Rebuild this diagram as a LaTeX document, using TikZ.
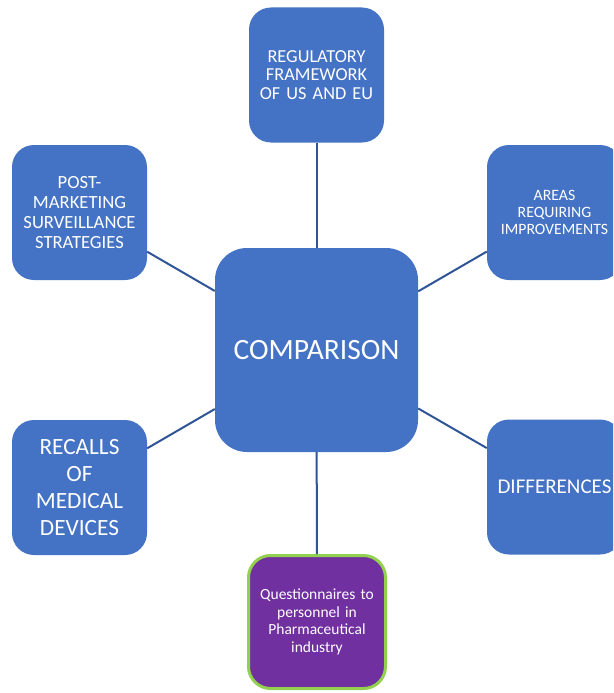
\documentclass[tikz,border=0pt]{standalone}
\usepackage{fontspec}
\setmainfont{Carlito}
\definecolor{boxblue}{HTML}{4472C4}
\definecolor{linkblue}{HTML}{2F5597}
\definecolor{qpurple}{HTML}{7030A0}
\definecolor{qgreen}{HTML}{92D050}
\tikzset{
  bbox/.style={fill=boxblue, draw=none, rounded corners=22pt, minimum width=135pt, minimum height=135pt, inner sep=0pt, text=white, align=center, text width=134pt},
  link/.style={draw=linkblue, line width=2pt}
}
\begin{document}
\begin{tikzpicture}[x=1pt,y=-1pt]
\clip (0,0) rectangle (613,693);
\fill[white] (0,0) rectangle (613,693);
\node[bbox, rounded corners=32pt, minimum width=203pt, minimum height=204pt, text width=200pt, font=\fontsize{29.5}{34}\selectfont] (c) at (316.5,350) {COMPARISON};
\node[bbox, font=\fontsize{18.3}{18.7}\selectfont] (t) at (316.5,75) {REGULATORY\\FRAMEWORK\\OF US AND EU};
\node[bbox, font=\fontsize{18.6}{20}\selectfont] (tl) at (79.5,212.5) {POST-\\MARKETING\\SURVEILLANCE\\STRATEGIES};
\node[bbox, font=\fontsize{23.3}{26.7}\selectfont] (bl) at (79.5,487.5) {RECALLS\\OF\\MEDICAL\\DEVICES};
\node[bbox, font=\fontsize{15.8}{16.7}\selectfont] (tr) at (554.5,212.5) {AREAS\\REQUIRING\\IMPROVEMENTS};
\node[bbox, font=\fontsize{21}{24}\selectfont] (br) at (554.5,487) {DIFFERENCES};
\node[bbox, fill=qpurple, draw=qgreen, line width=3pt, minimum width=137pt, minimum height=133pt, font=\fontsize{15.5}{17.7}\selectfont] (b) at (317,622) {Questionnaires to\\personnel in\\Pharmaceutical\\industry};
\draw[link] (c) -- (t);
\draw[link] (c) -- (b);
\draw[link] (c) -- (tl);
\draw[link] (c) -- (bl);
\draw[link] (c) -- (tr);
\draw[link] (c) -- (br);
\end{tikzpicture}
\end{document}
